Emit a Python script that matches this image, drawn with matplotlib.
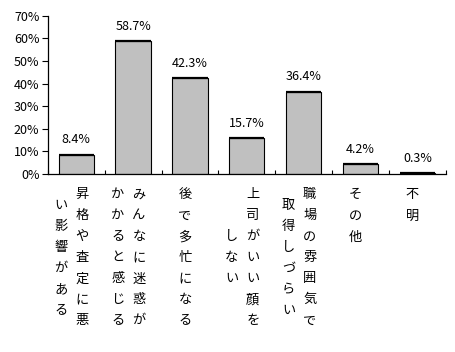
import matplotlib
matplotlib.use('Agg')
import matplotlib.pyplot as plt
import numpy as np

plt.rcParams['font.family'] = ['Noto Sans CJK JP', 'DejaVu Sans']

# ---- data ----
values = [8.4, 58.7, 42.3, 15.7, 36.4, 4.2, 0.3]
value_labels = ["8.4%", "58.7%", "42.3%", "15.7%", "36.4%", "4.2%", "0.3%"]
# each category label is written vertically, columns from right to left
category_columns = [
    ["昇格や査定に悪", "い影響がある"],
    ["みんなに迷惑が", "かかると感じる"],
    ["後で多忙になる"],
    ["上司がいい顔を", "しない"],
    ["職場の雰囲気で", "取得しづらい"],
    ["その他"],
    ["不明"],
]
y_ticks = [0, 10, 20, 30, 40, 50, 60, 70]
y_tick_labels = ["0%", "10%", "20%", "30%", "40%", "50%", "60%", "70%"]

# ---- figure ----
fig = plt.figure(figsize=(4.55, 3.52), dpi=100)
ax = fig.add_axes([0.105, 0.506, 0.875, 0.449])

x = np.arange(len(values))
bw = 0.62
ax.bar(x, values, width=bw, color='#c0c0c0', edgecolor='black', linewidth=0.8, zorder=2)
ax.hlines(values, x - bw / 2, x + bw / 2, colors='black', linewidth=1.6, zorder=3)

ax.set_xlim(-0.5, len(values) - 0.5)
ax.set_ylim(0, 70)
ax.set_yticks(y_ticks)
ax.set_yticklabels(y_tick_labels, fontsize=9)
ax.set_xticks(np.arange(-0.5, len(values) + 0.5, 1.0))
ax.set_xticklabels([])
ax.tick_params(axis='y', direction='out', length=4, width=0.8, pad=2)
ax.tick_params(axis='x', direction='in', length=3, width=0.8)
for s in ['top', 'right']:
    ax.spines[s].set_visible(False)
for s in ['left', 'bottom']:
    ax.spines[s].set_linewidth(0.9)
    ax.spines[s].set_zorder(4)

for i, (v, lab) in enumerate(zip(values, value_labels)):
    ax.annotate(lab, xy=(i, v), xytext=(0, 15), textcoords='offset pixels',
                ha='center', va='center', fontsize=9)

row = 21
for i, cols in enumerate(category_columns):
    maxlen = max(len(c) for c in cols)
    if len(cols) == 1:
        dxs = [-5]
    else:
        dxs = [6, -15]
    for c, dx in zip(cols, dxs):
        off = (maxlen - len(c)) / 2
        for k, ch in enumerate(c):
            ax.annotate(ch, xy=(i, 0), xytext=(dx, -(row + row * (k + off))),
                        textcoords='offset pixels', ha='center', va='center',
                        fontsize=9.5, annotation_clip=False)

fig.savefig('out.png', dpi=100)
